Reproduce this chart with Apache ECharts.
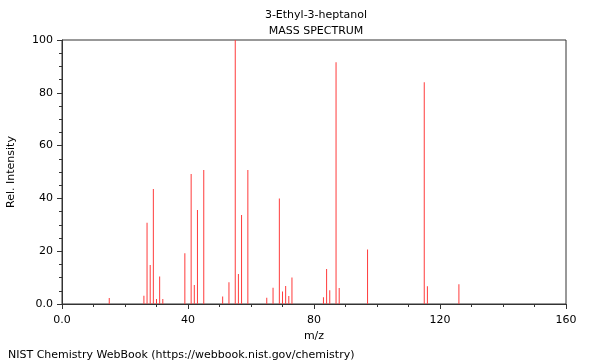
<!DOCTYPE html>
<html>
<head>
<meta charset="utf-8">
<script src="https://cdn.jsdelivr.net/npm/echarts@6/dist/echarts.min.js"></script>
<style>html,body{margin:0;padding:0;background:#fff}#c{width:600px;height:360px}</style>
</head>
<body>
<div id="c"></div>
<script>
var mzValues = [15, 26, 27, 28, 29, 30, 31, 32, 39, 41, 42, 43, 45, 51, 53, 55, 56, 57, 59, 65, 67, 69, 70, 71, 72, 73, 83, 84, 85, 87, 88, 97, 115, 116, 126];
var intensities = [2.3, 3.1, 30.8, 14.8, 43.6, 1.9, 10.4, 1.9, 19.2, 49.2, 7.2, 35.6, 50.8, 2.8, 8.2, 100, 11.4, 33.7, 50.8, 2.4, 6.2, 40.0, 4.7, 6.8, 3.0, 10.0, 2.6, 13.3, 5.2, 91.6, 6.1, 20.6, 84.0, 6.7, 7.5];
var titleLines = ["3-Ethyl-3-heptanol", "MASS SPECTRUM"];
var xName = "m/z";
var yName = "Rel. Intensity";
var footer = "NIST Chemistry WebBook (https://webbook.nist.gov/chemistry)";

var data = mzValues.map(function (m, i) { return [m, intensities[i]]; });
var font = "DejaVu Sans";
var axisCol = "#333";
var chart = echarts.init(document.getElementById('c'), null, {renderer: 'canvas'});
chart.setOption({
  animation: false,
  backgroundColor: '#fff',
  textStyle: {fontFamily: font},
  title: [
    {text: titleLines[0], left: 311, top: 5, textAlign: 'center', textStyle: {fontSize: 11, fontWeight: 'normal', color: '#000', fontFamily: font}},
    {text: titleLines[1], left: 311, top: 21, textAlign: 'center', textStyle: {fontSize: 11, fontWeight: 'normal', color: '#000', fontFamily: font}},
    {text: footer, left: 3, top: 345, textStyle: {fontSize: 11, fontWeight: 'normal', color: '#000', fontFamily: font}}
  ],
  grid: {left: 62, right: 34, top: 40, bottom: 56, show: true, borderColor: axisCol, borderWidth: 1, backgroundColor: 'transparent', containLabel: false, outerBoundsMode: 'none'},
  xAxis: {
    type: 'value', min: 0, max: 160, interval: 40,
    name: xName, nameLocation: 'middle', nameGap: 24,
    nameTextStyle: {fontSize: 11, color: '#000', fontFamily: font},
    axisLine: {show: true, lineStyle: {color: axisCol}},
    axisTick: {show: true, length: 5, lineStyle: {color: axisCol}},
    minorTick: {show: true, splitNumber: 4, length: 3, lineStyle: {color: axisCol}},
    splitLine: {show: false},
    axisLabel: {fontSize: 11, color: '#000', margin: 11, fontFamily: font, formatter: function (v) { return v === 0 ? '0.0' : String(v); }}
  },
  yAxis: {
    type: 'value', min: 0, max: 100, interval: 20,
    name: yName, nameLocation: 'middle', nameGap: 45, nameRotate: 90,
    nameTextStyle: {fontSize: 11, color: '#000', fontFamily: font},
    axisLine: {show: true, lineStyle: {color: axisCol}},
    axisTick: {show: true, length: 5, lineStyle: {color: axisCol}},
    minorTick: {show: true, splitNumber: 4, length: 3, lineStyle: {color: axisCol}},
    splitLine: {show: false},
    axisLabel: {fontSize: 11, color: '#000', margin: 9, fontFamily: font, formatter: function (v) { return v === 0 ? '0.0' : String(v); }}
  },
  series: [{
    type: 'bar',
    data: data,
    barWidth: 1,
    itemStyle: {color: '#ff3b3b'},
    silent: true
  }]
});
</script>
</body>
</html>
